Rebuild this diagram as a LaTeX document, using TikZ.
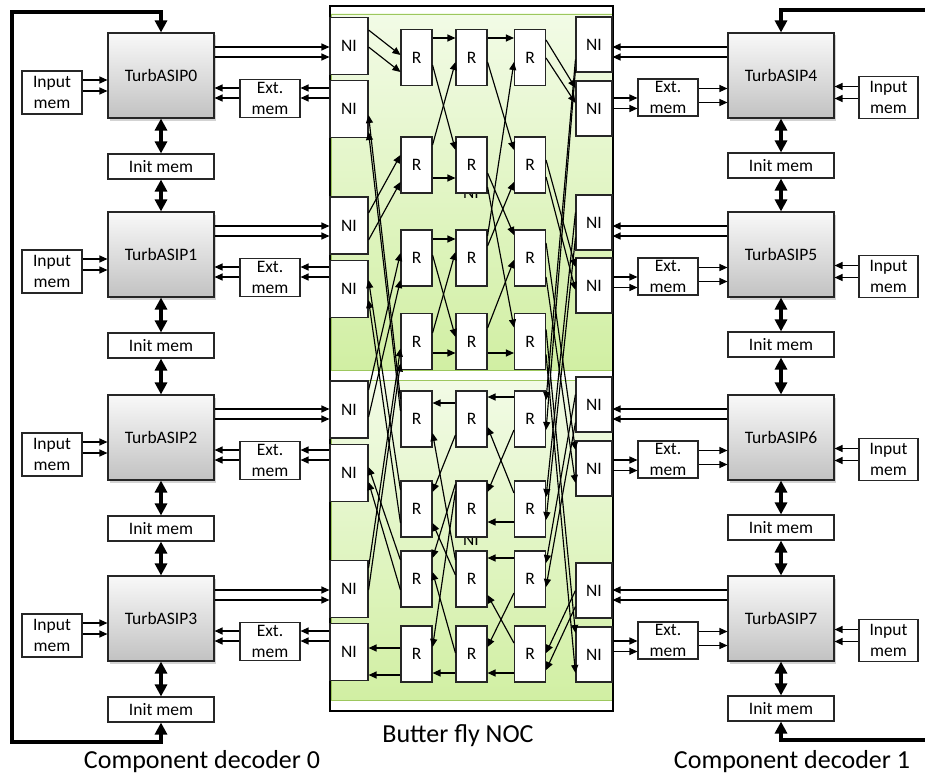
\documentclass[tikz,border=0pt]{standalone}
\usepackage{fontspec}
\setmainfont{Carlito}
\usetikzlibrary{arrows.meta,calc,shadows}

\definecolor{nocTop}{HTML}{F2FBE6}
\definecolor{nocBot}{HTML}{D1EFA3}
\definecolor{nocEdge}{HTML}{9DC75E}

\tikzset{
	box/.style={draw=black!85,line width=1.1pt,fill=white,inner sep=0pt,align=center,font=\fontsize{17.5}{21}\selectfont},
	asip/.style={box,minimum width=106pt,minimum height=85pt,top color=gray!5,bottom color=gray!48,
		drop shadow={shadow xshift=2pt,shadow yshift=-2.5pt,opacity=0.35}},
	initmem/.style={box,minimum width=106pt,minimum height=25pt},
	inmem/.style={box,minimum width=60pt,minimum height=43pt},
	extmem/.style={box,minimum width=60pt,minimum height=38pt},
	ni/.style={box,minimum width=38pt,minimum height=57pt},
	rt/.style={box,minimum width=31pt,minimum height=56pt},
	wire/.style={line width=1.15pt,->},
	fat/.style={line width=4pt,<->,>={Triangle[length=12pt,width=12pt]}},
	caption/.style={font=\fontsize{26}{30}\selectfont,inner sep=0pt}
}
\newcommand{\wire}[4]{\draw[wire] ($(#1)+(0,#2)$) -- ($(#3)+(0,#4)$);}
\newcommand{\hwire}[4][->]{\draw[wire,#1] ($(#2)+(0,#3)$) coordinate (p) -- (#4 |- p);}

\begin{document}
\begin{tikzpicture}[x=1pt,y=-1pt,>={Triangle[length=8pt,width=7pt]}]
	\useasboundingbox (0,0) rectangle (925,776);
	\clip (0,0) rectangle (925,776);
	% NOC background
	\draw[draw=nocEdge,line width=0.8pt,top color=nocTop,bottom color=nocBot] (331,14) rectangle (612,370);
	\draw[draw=nocEdge,line width=0.8pt,top color=nocTop,bottom color=nocBot] (331,380) rectangle (612,700);
	\draw[line width=1.1pt] (330,6) rectangle (613,711);
	\node[font=\fontsize{17.5}{21}\selectfont] (ghostA) at (471,193) {NI};
	\node[font=\fontsize{17.5}{21}\selectfont] (ghostB) at (471,540) {NI};
	\foreach \i/\yl/\yr in {0/46/44.5,1/109/108.5,2/225.5/222.5,3/289/285.5,4/409.5/404.5,5/473/468.5,6/589/590.5,7/652/654.5}{
		\node[ni] (nl\i) at (349,\yl) {NI};
		\node[ni,minimum width=36pt,minimum height=55pt] (nr\i) at (594,\yr) {NI};
	}
	\foreach \row/\y in {0/57.5,1/165,2/258,3/341.5,4/419,5/509,6/579,7/654}
		\foreach \col/\x in {1/416.5,2/471.5,3/530}
			\node[rt] (r\row c\col) at (\x,\y) {R};
	% upper half, left to right
	\wire{nl0.east}{-16}{r0c1.west}{-2.5}
	\wire{nl0.east}{1}{r0c1.west}{14.5}
	\wire{nl2.east}{-12.5}{r1c1.west}{-10}
	\wire{nl2.east}{14.5}{r1c1.west}{17}
	\wire{nl4.east}{-19.5}{r2c1.west}{-5}
	\wire{nl4.east}{7.5}{r2c1.west}{22}
	\wire{nl6.east}{-21}{r3c1.west}{7}
	\wire{nl6.east}{1}{r3c1.west}{22}
	\wire{r0c1.east}{-19.5}{r0c2.west}{-19.5}
	\wire{r0c1.east}{7.5}{r1c2.west}{-15}
	\wire{r1c1.east}{-20}{r0c2.west}{4.5}
	\wire{r1c1.east}{13}{r1c2.west}{13}
	\wire{r2c1.east}{-19}{r2c2.west}{-19}
	\wire{r2c1.east}{-3}{r3c2.west}{-4.5}
	\wire{r3c1.east}{-8.5}{r2c2.west}{-6}
	\wire{r3c1.east}{11.5}{r3c2.west}{11.5}
	\wire{r0c2.east}{-19.5}{r0c3.west}{-19.5}
	\wire{r0c2.east}{4.5}{r1c3.west}{-15}
	\wire{r1c2.east}{8}{r2c3.west}{-23}
	\wire{r1c2.east}{22}{r3c3.west}{-14}
	\wire{r2c2.east}{-22}{r0c3.west}{4.5}
	\wire{r2c2.east}{-12}{r1c3.west}{17}
	\wire{r3c2.east}{-13.5}{r2c3.west}{2}
	\wire{r3c2.east}{11.5}{r3c3.west}{11.5}
	\wire{r0c3.east}{-17.5}{nr1.west}{-20.5}
	\wire{r0c3.east}{0.5}{nr1.west}{-5.5}
	\wire{r1c3.east}{-5}{nr3.west}{-18.5}
	\wire{r1c3.east}{12}{nr3.west}{4.5}
	\wire{r2c3.east}{-15}{nr5.west}{-18.5}
	\wire{r2c3.east}{19}{nr5.west}{14.5}
	\wire{r3c3.east}{-12}{nr7.west}{-21.5}
	\wire{r3c3.east}{13}{nr7.west}{18.5}
	% lower half, right to left
	\wire{nr0.west}{15}{r4c3.east}{-19}
	\wire{nr0.west}{25}{r4c3.east}{11}
	\wire{nr2.west}{-10}{r5c3.east}{-12}
	\wire{nr2.west}{15}{r5c3.east}{11}
	\wire{nr4.west}{-10}{r6c3.east}{-16}
	\wire{nr4.west}{18}{r6c3.east}{8}
	\wire{nr6.west}{0}{r7c3.east}{-1}
	\wire{nr6.west}{16}{r7c3.east}{16}
	\wire{r4c3.west}{-22}{r4c2.east}{-22}
	\wire{r4c3.west}{11}{r5c2.east}{-17}
	\wire{r5c3.west}{-16}{r4c2.east}{8}
	\wire{r5c3.west}{13}{r5c2.east}{13}
	\wire{r6c3.west}{-21}{r6c2.east}{-21}
	\wire{r6c3.west}{14}{r7c2.east}{-7}
	\wire{r7c3.west}{-11}{r6c2.east}{16}
	\wire{r7c3.west}{19}{r7c2.east}{19}
	\wire{r4c2.west}{-16}{r4c1.east}{-16}
	\wire{r4c2.west}{16}{r5c1.east}{-17}
	\wire{r5c2.west}{-25}{r6c1.east}{-21}
	\wire{r5c2.west}{-18}{r7c1.east}{-7}
	\wire{r6c2.west}{-19}{r4c1.east}{14}
	\wire{r6c2.west}{-4}{r5c1.east}{14}
	\wire{r7c2.west}{-1}{r6c1.east}{-7}
	\wire{r7c2.west}{19}{r7c1.east}{19}
	\wire{r4c1.west}{-20}{nl1.east}{6}
	\wire{r4c1.west}{-8}{nl1.east}{23}
	\wire{r5c1.west}{-19}{nl3.east}{-9}
	\wire{r5c1.west}{14}{nl3.east}{11}
	\wire{r6c1.west}{-19}{nl5.east}{-6}
	\wire{r6c1.west}{11}{nl5.east}{9}
	\wire{r7c1.west}{-6}{nl7.east}{-4}
	\wire{r7c1.west}{21}{nl7.east}{23}
	% processors and memories
	\foreach \k/\y in {0/75.5,1/254.5,2/437.5,3/618.5}{
		\pgfmathtruncatemacro\ka{2*\k}
		\pgfmathtruncatemacro\kb{2*\k+1}
		\pgfmathtruncatemacro\kr{\k+4}
		\node[asip] (asip\k) at (161,\y) {TurbASIP\k};
		\node[initmem] (init\k) at (161,\y+91) {Init mem};
		\node[inmem] (in\k) at (52,\y+17) {Input\\mem};
		\node[extmem] (ext\k) at (270,\y+23) {Ext.\\mem};
		\node[asip] (asip\kr) at (781,\y) {TurbASIP\kr};
		\node[initmem] (init\kr) at (781,\y+90) {Init mem};
		\node[inmem,minimum width=59pt,minimum height=42pt] (in\kr) at (888.5,\y+22) {Input\\mem};
		\node[extmem,minimum height=37pt] (ext\kr) at (668,\y+22) {Ext.\\mem};
		\hwire{asip\k.east}{-28.5}{nl\ka.west}
		\hwire{asip\k.east}{-18.5}{nl\ka.west}
		\hwire[<-]{ext\k.east}{-10.5}{nl\kb.west}
		\hwire[<-]{ext\k.east}{-0.5}{nl\kb.west}
		\hwire[<-]{asip\k.east}{12.5}{ext\k.west}
		\hwire[<-]{asip\k.east}{22.5}{ext\k.west}
		\hwire{in\k.east}{-12.5}{asip\k.west}
		\hwire{in\k.east}{-1.5}{asip\k.west}
		\hwire{asip\kr.west}{-28.5}{nr\ka.east}
		\hwire{asip\kr.west}{-18.5}{nr\ka.east}
		\hwire[<-]{ext\kr.west}{0.5}{nr\kb.east}
		\hwire[<-]{ext\kr.west}{11}{nr\kb.east}
		\hwire[<-]{asip\kr.west}{13}{ext\kr.east}
		\hwire[<-]{asip\kr.west}{27}{ext\kr.east}
		\hwire[<-]{asip\kr.east}{11}{in\kr.west}
		\hwire[<-]{asip\kr.east}{23}{in\kr.west}
	}
	\foreach \k in {0,...,7}
		\draw[fat] (asip\k.south) -- (init\k.north);
	\foreach \k/\n in {0/1,1/2,2/3,4/5,5/6,6/7}
		\draw[fat] (init\k.south) -- (asip\n.north);
	% feedback loops
	\coordinate (lt) at (12,12);
	\coordinate (lb) at (12,742);
	\coordinate (rt) at (929,10);
	\coordinate (rb) at (929,740);
	\draw[fat] (asip0.north) |- (lt) -- (lb) -| (init3.south);
	\draw[fat] (asip4.north) |- (rt) -- (rb) -| (init7.south);
	\node[caption,anchor=base] (noclabel) at (458,742) {Butter fly NOC};
	\node[caption,anchor=base] (dec0label) at (202,768) {Component decoder 0};
	\node[caption,anchor=base] (dec1label) at (792,768) {Component decoder 1};
\end{tikzpicture}
\end{document}
